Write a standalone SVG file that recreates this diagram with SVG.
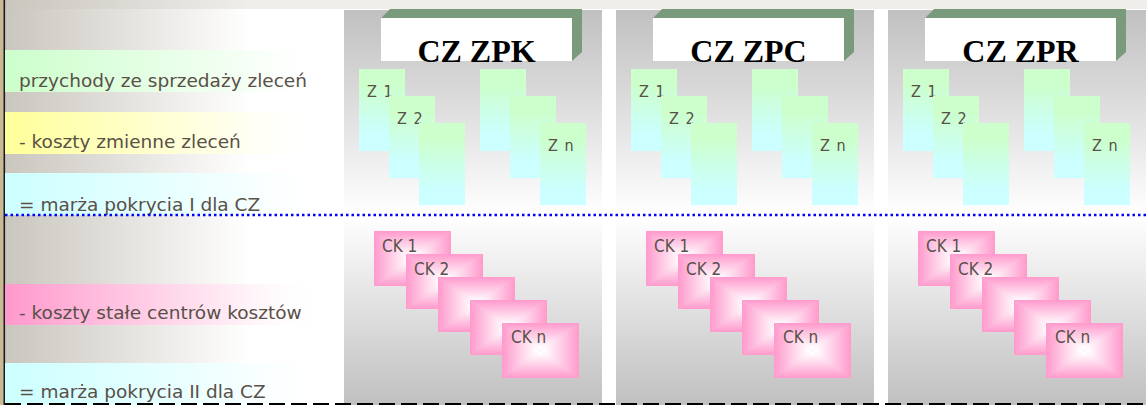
<svg xmlns="http://www.w3.org/2000/svg" xmlns:xlink="http://www.w3.org/1999/xlink" width="1147" height="405" viewBox="0 0 1147 405">
<style>
.lbl{font-family:"DejaVu Sans","Liberation Sans",sans-serif;font-size:18.5px;fill:#595048}
.zl{font-family:"DejaVu Sans Condensed","DejaVu Sans",sans-serif;font-size:16px;fill:#595048;letter-spacing:1px}
.ckl{font-family:"DejaVu Sans Condensed","DejaVu Sans",sans-serif;font-size:17px;fill:#595048}
.hd{font-family:"Liberation Serif","Times New Roman",serif;font-size:32px;font-weight:bold;fill:#000;text-anchor:middle}
.hdx{fill:#7a9a7c}
</style>
<defs>
<linearGradient id="bgL" x1="0" y1="0" x2="1" y2="0">
<stop offset="0" stop-color="#c9c5bd" stop-opacity="1"/>
<stop offset="1" stop-color="#c9c5bd" stop-opacity="0"/>
</linearGradient>
<linearGradient id="bG" x1="0" y1="0" x2="1" y2="0"><stop offset="0" stop-color="#ccffcc"/><stop offset="0.75" stop-color="#f4fff4"/><stop offset="1" stop-color="#ffffff" stop-opacity="0"/></linearGradient>
<linearGradient id="bY" x1="0" y1="0" x2="1" y2="0"><stop offset="0" stop-color="#ffff99"/><stop offset="0.75" stop-color="#fffff0"/><stop offset="1" stop-color="#ffffff" stop-opacity="0"/></linearGradient>
<linearGradient id="bC" x1="0" y1="0" x2="1" y2="0"><stop offset="0" stop-color="#ccffff"/><stop offset="0.75" stop-color="#f4ffff"/><stop offset="1" stop-color="#ffffff" stop-opacity="0"/></linearGradient>
<linearGradient id="bP" x1="0" y1="0" x2="1" y2="0"><stop offset="0" stop-color="#ff99cc"/><stop offset="0.75" stop-color="#fff0f7"/><stop offset="1" stop-color="#ffffff" stop-opacity="0"/></linearGradient>
<linearGradient id="pTop" x1="0" y1="0" x2="0" y2="1"><stop offset="0" stop-color="#c0c0c0"/><stop offset="1" stop-color="#ffffff"/></linearGradient>
<linearGradient id="pBot" x1="0" y1="0" x2="0" y2="1"><stop offset="0" stop-color="#ffffff"/><stop offset="1" stop-color="#c0c0c0"/></linearGradient>
<linearGradient id="zG" x1="0" y1="0" x2="0" y2="1"><stop offset="0.2" stop-color="#ccffcc"/><stop offset="0.8" stop-color="#ccffff"/></linearGradient>
<linearGradient id="gT" x1="0" y1="0" x2="0" y2="1"><stop offset="0" stop-color="#ff99cc"/><stop offset="0.9" stop-color="#ffffff"/></linearGradient>
<linearGradient id="gB" x1="0" y1="1" x2="0" y2="0"><stop offset="0" stop-color="#ff99cc"/><stop offset="0.9" stop-color="#ffffff"/></linearGradient>
<linearGradient id="gL" x1="0" y1="0" x2="1" y2="0"><stop offset="0" stop-color="#ff99cc"/><stop offset="0.9" stop-color="#ffffff"/></linearGradient>
<linearGradient id="gR" x1="1" y1="0" x2="0" y2="0"><stop offset="0" stop-color="#ff99cc"/><stop offset="0.9" stop-color="#ffffff"/></linearGradient>
<g id="ck">
<rect width="77" height="55" fill="#ffb3d9"/>
<polygon points="0,0 77,0 38.5,27.5" fill="url(#gT)"/>
<polygon points="0,55 77,55 38.5,27.5" fill="url(#gB)"/>
<polygon points="0,0 0,55 38.5,27.5" fill="url(#gL)"/>
<polygon points="77,0 77,55 38.5,27.5" fill="url(#gR)"/>
</g>
<rect id="z" width="46" height="82" fill="url(#zG)"/>
<g id="panel">
<rect x="0" y="10" width="258" height="205" fill="url(#pTop)"/>
<rect x="0" y="215" width="258" height="190" fill="url(#pBot)"/>
</g>
</defs>

<g id="background">
<rect width="1147" height="405" fill="#ffffff"/>
<rect width="1147" height="9" fill="#efeeeb"/>
<rect x="0" y="0" width="250" height="405" fill="url(#bgL)"/>
<rect x="0" y="0" width="3.5" height="405" fill="#cbb994"/>
<rect x="3.5" y="0" width="1.6" height="405" fill="#1a1a1a"/>
</g>

<g id="labels">
<g id="row-przychody"><rect x="5" y="50" width="315" height="42" fill="url(#bG)"/><text class="lbl" x="19" y="87">przychody ze sprzedaży zleceń</text></g>
<g id="row-koszty-zmienne"><rect x="5" y="112" width="315" height="42" fill="url(#bY)"/><text class="lbl" x="19" y="148">- koszty zmienne zleceń</text></g>
<g id="row-marza-1"><rect x="5" y="173" width="315" height="42" fill="url(#bC)"/><text class="lbl" x="19" y="211">= marża pokrycia I dla CZ</text></g>
<g id="row-koszty-stale"><rect x="5" y="284" width="315" height="41" fill="url(#bP)"/><text class="lbl" x="19" y="319">- koszty stałe centrów kosztów</text></g>
<g id="row-marza-2"><rect x="5" y="363" width="315" height="42" fill="url(#bC)"/><text class="lbl" x="19" y="398">= marża pokrycia II dla CZ</text></g>
</g>

<g id="col-zpk">
<use href="#panel" x="344"/>
<g id="hdr-zpk"><polygon class="hdx" points="381,18 390,9 582,9 582,52 572,61 572,18"/><rect x="381" y="18" width="191" height="43" fill="#ffffff"/><text class="hd" x="476.5" y="62">CZ ZPK</text></g>
<g id="zpk-z1"><use href="#z" x="359" y="69"/><text class="zl" x="367" y="97">Z 1</text></g>
<g id="zpk-z2"><use href="#z" x="389" y="96"/><text class="zl" x="397" y="124">Z 2</text></g>
<g id="zpk-z3"><use href="#z" x="419" y="123"/></g>
<g id="zpk-z4"><use href="#z" x="480" y="69"/></g>
<g id="zpk-z5"><use href="#z" x="510" y="96"/></g>
<g id="zpk-zn"><use href="#z" x="540" y="123"/><text class="zl" x="548" y="151">Z n</text></g>
<g id="zpk-ck1"><use href="#ck" x="374" y="231"/><text class="ckl" x="382" y="252">CK 1</text></g>
<g id="zpk-ck2"><use href="#ck" x="406" y="254"/><text class="ckl" x="414" y="275">CK 2</text></g>
<g id="zpk-ck3"><use href="#ck" x="438" y="277"/></g>
<g id="zpk-ck4"><use href="#ck" x="470" y="300"/></g>
<g id="zpk-ckn"><use href="#ck" x="502" y="323"/><text class="ckl" x="511" y="343">CK n</text></g>
</g>

<g id="col-zpc">
<use href="#panel" x="616"/>
<g id="hdr-zpc"><polygon class="hdx" points="653,18 662,9 854,9 854,52 844,61 844,18"/><rect x="653" y="18" width="191" height="43" fill="#ffffff"/><text class="hd" x="748.5" y="62">CZ ZPC</text></g>
<g id="zpc-z1"><use href="#z" x="631" y="69"/><text class="zl" x="639" y="97">Z 1</text></g>
<g id="zpc-z2"><use href="#z" x="661" y="96"/><text class="zl" x="669" y="124">Z 2</text></g>
<g id="zpc-z3"><use href="#z" x="691" y="123"/></g>
<g id="zpc-z4"><use href="#z" x="752" y="69"/></g>
<g id="zpc-z5"><use href="#z" x="782" y="96"/></g>
<g id="zpc-zn"><use href="#z" x="812" y="123"/><text class="zl" x="820" y="151">Z n</text></g>
<g id="zpc-ck1"><use href="#ck" x="646" y="231"/><text class="ckl" x="654" y="252">CK 1</text></g>
<g id="zpc-ck2"><use href="#ck" x="678" y="254"/><text class="ckl" x="686" y="275">CK 2</text></g>
<g id="zpc-ck3"><use href="#ck" x="710" y="277"/></g>
<g id="zpc-ck4"><use href="#ck" x="742" y="300"/></g>
<g id="zpc-ckn"><use href="#ck" x="774" y="323"/><text class="ckl" x="783" y="343">CK n</text></g>
</g>

<g id="col-zpr">
<use href="#panel" x="888"/>
<g id="hdr-zpr"><polygon class="hdx" points="925,18 934,9 1126,9 1126,52 1116,61 1116,18"/><rect x="925" y="18" width="191" height="43" fill="#ffffff"/><text class="hd" x="1020.5" y="62">CZ ZPR</text></g>
<g id="zpr-z1"><use href="#z" x="903" y="69"/><text class="zl" x="911" y="97">Z 1</text></g>
<g id="zpr-z2"><use href="#z" x="933" y="96"/><text class="zl" x="941" y="124">Z 2</text></g>
<g id="zpr-z3"><use href="#z" x="963" y="123"/></g>
<g id="zpr-z4"><use href="#z" x="1024" y="69"/></g>
<g id="zpr-z5"><use href="#z" x="1054" y="96"/></g>
<g id="zpr-zn"><use href="#z" x="1084" y="123"/><text class="zl" x="1092" y="151">Z n</text></g>
<g id="zpr-ck1"><use href="#ck" x="918" y="231"/><text class="ckl" x="926" y="252">CK 1</text></g>
<g id="zpr-ck2"><use href="#ck" x="950" y="254"/><text class="ckl" x="958" y="275">CK 2</text></g>
<g id="zpr-ck3"><use href="#ck" x="982" y="277"/></g>
<g id="zpr-ck4"><use href="#ck" x="1014" y="300"/></g>
<g id="zpr-ckn"><use href="#ck" x="1046" y="323"/><text class="ckl" x="1055" y="343">CK n</text></g>
</g>

<g id="connectors">
<line x1="5" y1="215" x2="1147" y2="215" stroke="#0000ff" stroke-width="2.5" stroke-dasharray="2.5 3"/>
<line x1="5" y1="404" x2="1147" y2="404" stroke="#000000" stroke-width="2" stroke-dasharray="16 6"/>
</g>
</svg>
